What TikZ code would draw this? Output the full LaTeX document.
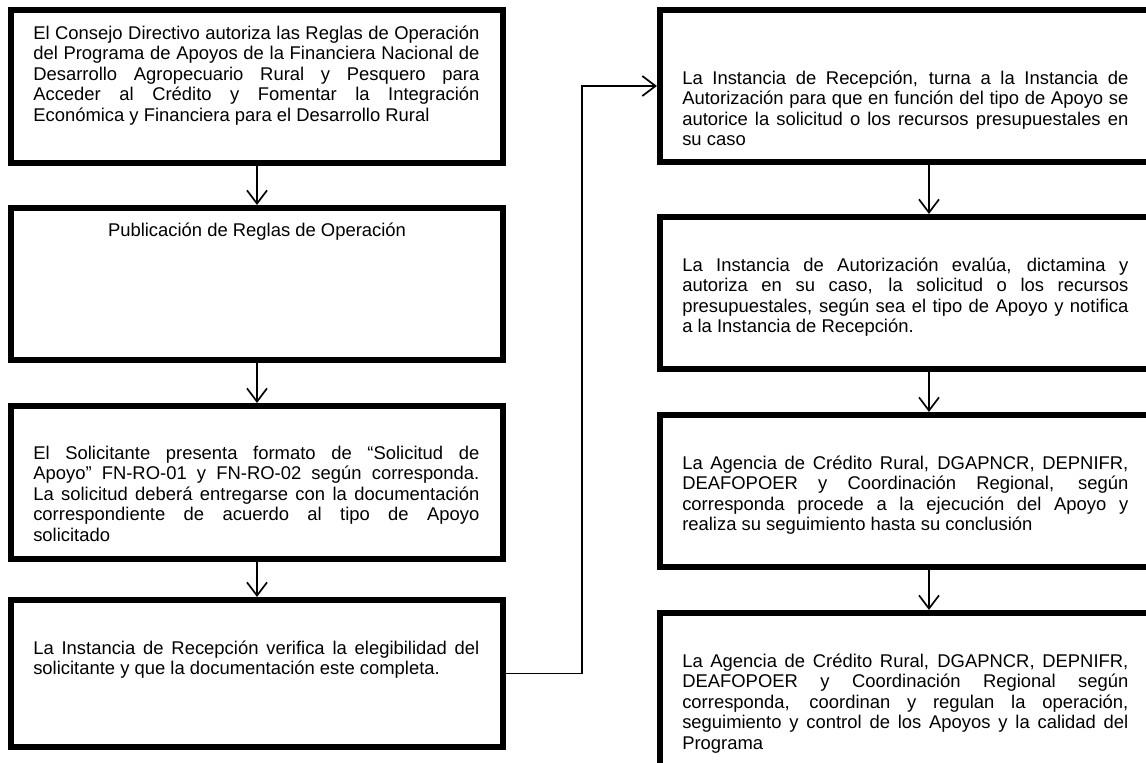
\documentclass[tikz,border=0pt]{standalone}
\usepackage{fontspec}
\setmainfont{Liberation Sans}
\usetikzlibrary{arrows.meta}
\hyphenpenalty=10000
\tolerance=10000
\hbadness=10000

\begin{document}
\begin{tikzpicture}[x=0.025cm, y=-0.025cm,
  caja/.style={draw, line width=4.3pt, inner sep=0pt, minimum width=12.3cm},
  cajader/.style={caja, minimum width=13.45cm},
  texto/.style={anchor=north west, inner sep=0pt, text width=11.15cm, align=justify, font=\fontsize{13.1}{14.5}\selectfont},
  flecha/.style={line width=1.2pt, -{Straight Barb[length=0.33cm,width=0.5cm]}}]
\useasboundingbox (0,0) rectangle (1146,763);
\clip (0,0) rectangle (1146,763);
% columna izquierda
\node[caja, minimum height=3.825cm] (L1) at (257,86.5) {};
\node[caja, minimum height=3.8cm] (L2) at (257,284) {};
\node[caja, minimum height=3.825cm] (L3) at (257,482.5) {};
\node[caja, minimum height=3.675cm] (L4) at (257,673.5) {};
% columna derecha
\node[cajader, minimum height=3.8cm] (R1) at (929,86) {};
\node[cajader, minimum height=3.8cm] (R2) at (929,293) {};
\node[cajader, minimum height=3.8cm] (R3) at (929,491) {};
\node[cajader, minimum height=3.925cm] (R4) at (929,691.5) {};
% textos
\node[texto] (t1) at (33,25) {\strut El Consejo Directivo autoriza las Reglas de Operación\linebreak del Programa de Apoyos de la Financiera Nacional de\linebreak Desarrollo Agropecuario Rural y Pesquero para\linebreak Acceder al Crédito y Fomentar la Integración\linebreak Económica y Financiera para el Desarrollo Rural};
\node[anchor=north, inner sep=0pt, font=\fontsize{13.1}{14.5}\selectfont] (t2) at (257,222) {\strut Publicación de Reglas de Operación};
\node[texto] (t3) at (33,445) {\strut El Solicitante presenta formato de “Solicitud de\linebreak Apoyo” FN-RO-01 y FN-RO-02 según corresponda.\linebreak La solicitud deberá entregarse con la documentación\linebreak correspondiente de acuerdo al tipo de Apoyo\linebreak solicitado};
\node[texto] (t4) at (33,640) {\strut La Instancia de Recepción verifica la elegibilidad del\linebreak solicitante y que la documentación este completa.};
\node[texto] (t5) at (682,70) {\strut La Instancia de Recepción, turna a la Instancia de\linebreak Autorización para que en función del tipo de Apoyo se\linebreak autorice la solicitud o los recursos presupuestales en\linebreak su caso};
\node[texto] (t6) at (682,257) {\strut La Instancia de Autorización evalúa, dictamina y\linebreak autoriza en su caso, la solicitud o los recursos\linebreak presupuestales, según sea el tipo de Apoyo y notifica\linebreak a la Instancia de Recepción.};
\node[texto] (t7) at (682,455) {\strut La Agencia de Crédito Rural, DGAPNCR, DEPNIFR,\linebreak DEAFOPOER y Coordinación Regional, según\linebreak corresponda procede a la ejecución del Apoyo y\linebreak realiza su seguimiento hasta su conclusión};
\node[texto] (t8) at (682,653) {\strut La Agencia de Crédito Rural, DGAPNCR, DEPNIFR,\linebreak DEAFOPOER y Coordinación Regional según\linebreak corresponda, coordinan y regulan la operación,\linebreak seguimiento y control de los Apoyos y la calidad del\linebreak Programa};
% flechas
\draw[flecha] (L1.south) -- (L2.north);
\draw[flecha] (L2.south) -- (L3.north);
\draw[flecha] (L3.south) -- (L4.north);
\coordinate (codo) at (582,0);
\draw[flecha] (L4.east) -- (L4.east -| codo) |- (R1.west);
\draw[flecha] (R1.south) -- (R2.north);
\draw[flecha] (R2.south) -- (R3.north);
\draw[flecha] (R3.south) -- (R4.north);
\end{tikzpicture}
\end{document}
